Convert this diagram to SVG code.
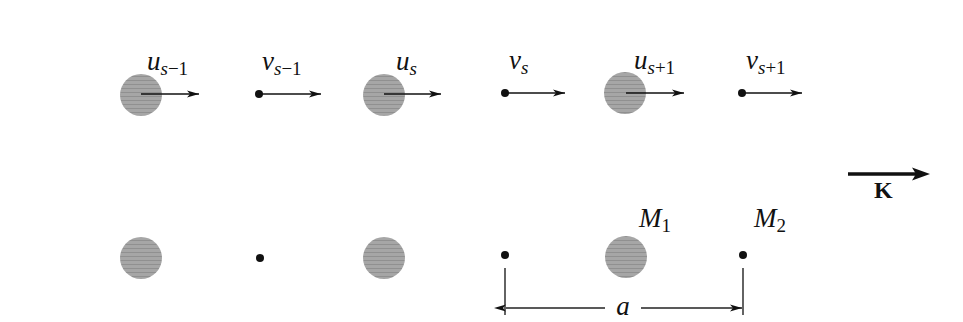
<svg xmlns="http://www.w3.org/2000/svg" width="963" height="322" viewBox="0 0 963 322">
<defs>
<marker id="ah" viewBox="0 0 12 10" refX="12" refY="5" markerWidth="12" markerHeight="10" markerUnits="userSpaceOnUse" orient="auto">
<path d="M0,1.5 L12,5 L0,8.5 L3,5 Z" fill="#111"/>
</marker>
<marker id="ahs" viewBox="0 0 12 10" refX="0" refY="5" markerWidth="12" markerHeight="10" markerUnits="userSpaceOnUse" orient="auto-start-reverse">
<path d="M0,1.5 L12,5 L0,8.5 L3,5 Z" fill="#111"/>
</marker>
<pattern id="tex" width="4" height="4" patternUnits="userSpaceOnUse">
<rect width="4" height="4" fill="#a6a6a6"/>
<rect width="4" height="1" fill="#909090"/>
</pattern>
</defs>
<style>
.big{fill:url(#tex);}
.dot{fill:#111;}
.arr{stroke:#111;stroke-width:1.6;fill:none;marker-end:url(#ah);}
.lbl{font-family:"Liberation Serif","DejaVu Serif",serif;font-style:italic;font-size:27px;fill:#111;}
.sub{font-size:19px;font-style:normal;}
.subi{font-size:19px;}
.dim{stroke:#222;stroke-width:1.4;fill:none;}
</style>
<rect width="963" height="322" fill="#fff"/>

<g id="node-u-s-1">
<circle class="big" cx="141" cy="95" r="21"/>
<text class="lbl" x="147" y="70">u<tspan class="subi" dy="5">s</tspan><tspan class="sub">−1</tspan></text>
</g>
<g id="node-v-s-1">
<circle class="dot" cx="259" cy="94" r="4"/>
<text class="lbl" x="262" y="70">v<tspan class="subi" dy="5">s</tspan><tspan class="sub">−1</tspan></text>
</g>
<g id="node-u-s">
<circle class="big" cx="384" cy="95" r="21"/>
<text class="lbl" x="396" y="70">u<tspan class="subi" dy="5">s</tspan></text>
</g>
<g id="node-v-s">
<circle class="dot" cx="505" cy="93" r="4"/>
<text class="lbl" x="509" y="69">v<tspan class="subi" dy="5">s</tspan></text>
</g>
<g id="node-u-s+1">
<circle class="big" cx="625" cy="93" r="21"/>
<text class="lbl" x="634" y="69">u<tspan class="subi" dy="5">s</tspan><tspan class="sub">+1</tspan></text>
</g>
<g id="node-v-s+1">
<circle class="dot" cx="742" cy="93" r="4"/>
<text class="lbl" x="746" y="69">v<tspan class="subi" dy="5">s</tspan><tspan class="sub">+1</tspan></text>
</g>

<g id="K-label">
<text x="874" y="198" font-family="Liberation Serif, DejaVu Serif, serif" font-weight="bold" font-size="24" fill="#111">K</text>
</g>

<g id="bottom-1"><circle class="big" cx="141" cy="258" r="21"/></g>
<g id="bottom-2"><circle class="dot" cx="260" cy="258" r="4"/></g>
<g id="bottom-3"><circle class="big" cx="384" cy="258" r="21"/></g>
<g id="bottom-4"><circle class="dot" cx="505" cy="255" r="4"/></g>
<g id="bottom-M1">
<circle class="big" cx="626" cy="257" r="21"/>
<text class="lbl" x="639" y="227">M<tspan class="sub" dy="5">1</tspan></text>
</g>
<g id="bottom-M2">
<circle class="dot" cx="743" cy="255" r="4"/>
<text class="lbl" x="754" y="227">M<tspan class="sub" dy="5">2</tspan></text>
</g>

<g id="connectors">
<line class="arr" x1="141" y1="94" x2="199" y2="94"/>
<line class="arr" x1="259" y1="94" x2="321" y2="94"/>
<line class="arr" x1="384" y1="94" x2="441" y2="94"/>
<line class="arr" x1="505" y1="93" x2="565" y2="93"/>
<line class="arr" x1="626" y1="93" x2="684" y2="93"/>
<line class="arr" x1="742" y1="93" x2="802" y2="93"/>
<line x1="848" y1="174" x2="918" y2="174" stroke="#111" stroke-width="3.5"/>
<path d="M912,167.5 L930,174 L912,180.5 L916,174 Z" fill="#111"/>
</g>

<g id="dimension">
<line class="dim" x1="505" y1="268" x2="505" y2="315"/>
<line class="dim" x1="743" y1="268" x2="743" y2="315"/>
<line class="dim" x1="506" y1="308" x2="605" y2="308" marker-start="url(#ahs)"/>
<line class="dim" x1="641" y1="308" x2="742" y2="308" marker-end="url(#ah)"/>
<text class="lbl" x="623" y="315" text-anchor="middle">a</text>
</g>
</svg>
